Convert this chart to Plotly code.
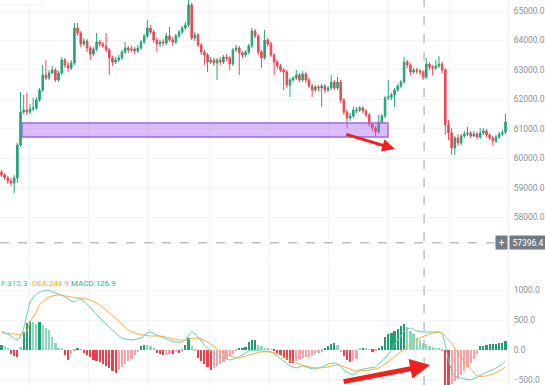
import plotly.graph_objects as go

# ---------------- data ----------------
opens = [59542,59440,59339,59237,59169,59339,60457,61576,61644,61576,
         61678,61712,61983,62322,62830,62729,62898,63000,62661,62898,
         63339,63169,63068,63237,64424,64254,63881,63983,63746,63542,
         63712,63949,63881,63814,63678,63407,63271,63339,63407,63610,
         63746,63678,63712,63644,63746,63949,64153,64424,64288,64017,
         63881,63949,63915,64153,64017,63949,64153,64288,64424,64525,
         65203,64085,64186,63847,63610,63508,63271,63339,63237,63339,
         63271,63441,63407,63203,63678,63746,63576,63508,63610,63814,
         64322,64153,63610,63407,64017,63881,63508,63271,63136,63000,
         62932,62491,62661,62729,62830,62661,62864,62661,62458,62322,
         62424,62390,62458,62322,62390,62593,62390,62593,61983,61576,
         61373,61441,61610,61644,61712,61610,61474,61169,61034,60898,
         61237,61441,62051,62085,62152,62322,62458,62593,63271,63169,
         62932,63000,62966,62932,62763,63203,63102,63068,63136,63203,
         63000,61135,60864,60356,60695,60525,60763,60830,60864,60763,
         60830,60729,60864,60932,60796,60695,60593,60729,60830,60898]
highs = [59610,59508,59407,59339,59440,60525,62254,62152,62220,61847,
         62051,62085,62390,63169,63339,63000,63136,63068,62966,63441,
         63407,63271,63339,64593,64593,64322,64085,64051,63814,63780,
         64254,64017,63949,64254,63746,63475,63441,63508,63678,63949,
         63814,63814,63780,63847,64017,64220,64695,64525,64356,64085,
         64017,64051,64254,64458,64119,64220,64356,64492,64627,65373,
         65271,64288,64254,63915,63678,63576,63441,63407,63407,63441,
         63508,63542,63475,63746,63847,63814,63644,63678,63881,64424,
         64390,64220,63678,64356,64085,63949,63576,63339,63203,63068,
         63000,62729,62797,63000,62898,62966,62932,62729,62525,62491,
         62491,62525,62525,62458,62830,62661,62763,62661,62051,61644,
         61542,61746,61746,61780,61780,61678,61542,61237,61102,61474,
         61508,62119,62661,62220,62390,62525,62661,63441,63339,63237,
         63068,63068,63034,63000,63407,63271,63169,63339,63475,63271,
         63068,61305,61034,60763,60830,60830,60932,61068,60932,60932,
         60898,61034,61034,61000,60864,60763,60796,60898,60966,61508]
lows = [59373,59271,59135,59068,58830,59169,60390,61508,61474,61508,
        61610,61644,61915,62254,62661,62661,62864,62593,62593,62830,
        63068,62932,63000,63169,64153,63780,63814,63610,63339,63475,
        63644,63780,63746,63610,62830,63136,63203,63271,63339,63542,
        63576,63610,63542,63576,63678,63881,64085,64220,63915,63610,
        63780,63814,63847,63949,63814,63881,64085,64220,64356,64458,
        64017,63983,63780,63508,63169,62932,63203,63136,62661,63169,
        63203,63305,63000,63136,63610,62830,63407,63441,63542,63746,
        64085,63508,63068,63339,63780,63441,62830,63034,62932,62322,
        62390,62085,62593,62661,62593,62593,62559,62390,62085,62254,
        62288,61746,62220,62254,62322,62322,62322,61881,61474,61034,
        61271,61373,61542,61576,61542,61407,61068,60932,60763,60830,
        61169,61373,61983,61983,61746,62254,62390,62525,63068,62830,
        62864,62864,62830,62661,62695,63000,62830,63000,63068,62898,
        60796,60627,60118,60118,60424,60457,60695,60763,60695,60729,
        60661,60661,60796,60729,60627,60424,60525,60661,60763,60830]
closes = [59440,59339,59237,59169,59339,60457,61576,61644,61576,61678,
          61712,61983,62322,62830,62729,62898,63000,62661,62898,63339,
          63169,63068,63237,64424,64254,63881,63983,63746,63542,63712,
          63949,63881,63814,63678,63407,63271,63339,63407,63610,63746,
          63678,63712,63644,63746,63949,64153,64424,64288,64017,63881,
          63949,63915,64153,64017,63949,64153,64288,64424,64525,65203,
          64085,64186,63847,63610,63508,63271,63339,63237,63339,63271,
          63441,63407,63203,63678,63746,63576,63508,63610,63814,64322,
          64153,63610,63407,64017,63881,63508,63271,63136,63000,62932,
          62491,62661,62729,62830,62661,62864,62661,62458,62322,62424,
          62390,62458,62322,62390,62593,62390,62593,61983,61576,61373,
          61441,61644,61644,61712,61610,61474,61169,61034,60898,61237,
          61441,62051,62085,62152,62322,62458,62593,63271,63169,62932,
          63000,62966,62932,62763,63203,63102,63068,63136,63203,63000,
          61135,60864,60356,60695,60525,60763,60830,60864,60763,60830,
          60729,60864,60932,60796,60695,60593,60729,60830,60864,61237]

macd_hist = [80,60,40,-60,-100,-120,50,300,450,490,
             470,440,470,420,360,330,220,120,40,20,
             -90,-160,-60,-20,20,10,-50,-80,-120,-160,
             -180,-200,-240,-270,-300,-350,-385,-320,-280,-230,
             -190,-150,-80,-40,60,90,80,60,30,-50,
             -70,-90,-80,-60,-70,-40,-45,-30,80,200,
             60,-20,-140,-190,-230,-280,-330,-300,-260,-230,
             -200,-150,-100,-60,-20,30,40,50,140,170,
             170,90,60,40,30,15,-20,-55,-90,-130,
             -170,-220,-225,-180,-150,-140,-120,-110,-100,-70,
             -55,-30,40,70,100,110,80,-40,-100,-170,
             -200,-180,-150,20,25,20,15,-30,-25,40,
             60,220,260,290,320,350,400,440,380,320,
             260,200,160,120,100,70,55,35,25,-20,
             -650,-700,-560,-520,-480,-420,-350,-280,-220,-150,
             -60,60,75,90,95,100,105,110,120,150]

dif_idx = [0,3,5,6,7,8,9,11,13,15,17,19,21,23,24,25,27,29,32,35,
           38,41,44,46,47,49,52,55,57,58,60,62,64,66,68,70,72,74,76,78,
           80,82,85,87,89,91,93,95,97,99,101,103,105,107,108,110,111,113,116,118,
           119,121,123,124,126,127,129,131,133,136,138,139,140,141,142,143,145,148,150,152,
           154,156,158,159]
dif_val = [317,234,167,234,367,585,800,935,985,1000,950,918,850,800,850,850,768,650,484,334,
           200,167,200,284,300,250,184,134,134,167,300,217,84,-17,-84,-134,-167,-134,-84,-17,
           0,-17,-33,-100,-184,-267,-300,-267,-300,-317,-284,-234,-217,-267,-334,-400,-418,-334,-300,-284,
           -234,-134,0,100,234,317,367,317,300,300,300,267,84,-167,-334,-434,-468,-501,-451,-400,
           -351,-300,-234,-184]

dea_idx = [0,4,6,8,9,11,12,15,18,22,25,28,31,34,37,40,43,47,50,53,
           56,58,61,63,66,69,72,75,78,82,85,88,91,94,97,100,103,106,109,112,
           116,119,122,125,129,132,135,138,139,141,142,143,144,145,146,148,150,152,154,156,
           158,159]
dea_val = [284,267,250,317,468,635,752,885,918,885,868,835,752,618,484,334,267,234,234,200,
           167,167,200,184,100,-17,-100,-134,-84,-33,-33,-84,-167,-234,-284,-300,-284,-250,-300,-351,
           -334,-300,-200,-67,84,200,267,300,284,167,117,34,-50,-100,-200,-317,-434,-440,-420,-380,
           -320,-284]

price_ticks = [58000, 59000, 60000, 61000, 62000, 63000, 64000, 65000]
macd_ticks = [-500, 0, 500, 1000]
legend_texts = ["F:312.3", "DEA:248.9", "MACD:126.9"]
cross_label = "57396.4"

# ---------------- styling ----------------
UP = "#22a57b"
DOWN = "#ee4853"
GRID = "#f2f3f5"
TICK_FONT = dict(family="Roboto, Arial, sans-serif", size=8.5, color="#8b8f98")

x = list(range(len(closes)))

hist_colors = []
prev = 0
for v in macd_hist:
    grow = abs(v) >= abs(prev)
    if v >= 0:
        hist_colors.append("#1f9e74" if grow else "#8fd7bc")
    else:
        hist_colors.append("#e8404d" if grow else "#f6a3aa")
    prev = v

fig = go.Figure()

fig.add_trace(go.Candlestick(
    x=x, open=opens, high=highs, low=lows, close=closes,
    increasing=dict(line=dict(color=UP, width=1), fillcolor=UP),
    decreasing=dict(line=dict(color=DOWN, width=1), fillcolor=DOWN),
    whiskerwidth=0, xaxis="x", yaxis="y", showlegend=False, hoverinfo="skip"))

fig.add_trace(go.Bar(x=x, y=macd_hist, marker=dict(color=hist_colors, line=dict(width=0)),
                     width=0.7, xaxis="x2", yaxis="y2", showlegend=False, hoverinfo="skip"))
fig.add_trace(go.Scatter(x=dif_idx, y=dif_val, mode="lines", line=dict(color="#5bd0b0", width=1, shape="spline", smoothing=0.6),
                         xaxis="x2", yaxis="y2", showlegend=False, hoverinfo="skip"))
fig.add_trace(go.Scatter(x=dea_idx, y=dea_val, mode="lines", line=dict(color="#f6ac3a", width=1, shape="spline", smoothing=0.6),
                         xaxis="x2", yaxis="y2", showlegend=False, hoverinfo="skip"))

XR = [-0.473, 159.78]
vgrid = [8.68, 27.6, 46.5, 65.5, 84.4, 103.3, 122.2, 141.2]

fig.update_layout(
    width=545, height=385,
    margin=dict(l=0, r=37, t=0, b=0),
    paper_bgcolor="white", plot_bgcolor="white",
    bargap=0,
    xaxis=dict(domain=[0, 1], anchor="y", range=XR, tickvals=vgrid, showticklabels=False,
               showgrid=True, gridcolor=GRID, zeroline=False, showline=False,
               rangeslider=dict(visible=False), fixedrange=True),
    xaxis2=dict(domain=[0, 1], anchor="y2", range=XR, tickvals=vgrid, showticklabels=False,
                showgrid=True, gridcolor=GRID, zeroline=False, showline=False, matches="x"),
    yaxis=dict(domain=[0.3195, 1], side="right", range=[56490, 65373], tickvals=price_ticks,
               tickformat=".1f", tickfont=TICK_FONT, showgrid=True, gridcolor=GRID,
               zeroline=False, showline=True, linecolor="#eceef1", ticks="", ticklabelstandoff=3),
    yaxis2=dict(domain=[0, 0.3117], side="right", range=[-585, 1420], tickvals=macd_ticks,
                tickformat=".1f", tickfont=TICK_FONT, showgrid=True, gridcolor=GRID,
                zeroline=False, showline=True, linecolor="#eceef1", ticks="", ticklabelstandoff=3),
    font=dict(family="Roboto, Arial, sans-serif"),
)

shapes = []
# purple zone
shapes.append(dict(type="rect", xref="x", yref="y", x0=6.47, x1=121.9, y0=60729, y1=61203,
                   fillcolor="rgba(168,98,240,0.42)", line=dict(color="#a066e6", width=1.5), layer="above"))
# crosshair vertical
shapes.append(dict(type="line", xref="x", yref="paper", x0=133.3, x1=133.3, y0=0, y1=1,
                   line=dict(color="#9aa1ab", width=1, dash="dash")))
# crosshair horizontal
shapes.append(dict(type="line", xref="paper", yref="y", x0=0, x1=0.974, y0=57140, y1=57140,
                   line=dict(color="#9aa1ab", width=1, dash="dash")))
# faint tooltip box at top-left
shapes.append(dict(type="rect", xref="paper", yref="paper", x0=-0.05, x1=42/508, y0=1-5/385, y1=1.05,
                   fillcolor="white", line=dict(color="#eeeeee", width=1)))
fig.update_layout(shapes=shapes)

ann = []
# crosshair labels
ann.append(dict(xref="paper", yref="y", x=501.5/508, y=57140, text="+", showarrow=False,
                bgcolor="#737a85", font=dict(color="white", size=11), width=11, height=13,
                xanchor="center", yanchor="middle", borderpad=0))
ann.append(dict(xref="paper", yref="y", x=1.0, y=57140, text=cross_label, showarrow=False,
                bgcolor="#737a85", font=dict(color="white", size=8.5, family="Roboto, Arial, sans-serif"),
                width=36, height=13, xanchor="left", yanchor="middle", borderpad=0, xshift=1))
# MACD legend texts
ann.append(dict(xref="paper", yref="paper", x=0, y=1 - 283/385, text=legend_texts[0], showarrow=False,
                xanchor="left", yanchor="middle", xshift=-1,
                font=dict(color="#3fc39c", size=8, family="Roboto, Arial, sans-serif")))
ann.append(dict(xref="paper", yref="paper", x=30/508, y=1 - 283/385, text=legend_texts[1], showarrow=False,
                xanchor="left", yanchor="middle",
                font=dict(color="#f5a623", size=8, family="Roboto, Arial, sans-serif")))
ann.append(dict(xref="paper", yref="paper", x=69/508, y=1 - 283/385, text=legend_texts[2], showarrow=False,
                xanchor="left", yanchor="middle",
                font=dict(color="#2bb088", size=8, family="Roboto, Arial, sans-serif")))
# red arrows
ann.append(dict(xref="x", yref="y", x=124.1, y=60322, ax=-50, ay=-15, axref="pixel", ayref="pixel",
                text="", showarrow=True, arrowhead=2, arrowwidth=3, arrowsize=0.85, arrowcolor="#f0201c",
                standoff=0))
ann.append(dict(xref="x2", yref="y2", x=135.2, y=-250, ax=-88, ay=17, axref="pixel", ayref="pixel",
                text="", showarrow=True, arrowhead=2, arrowwidth=5, arrowsize=0.8, arrowcolor="#f0201c",
                standoff=0))
fig.update_layout(annotations=ann)

fig.write_html("out.html")
